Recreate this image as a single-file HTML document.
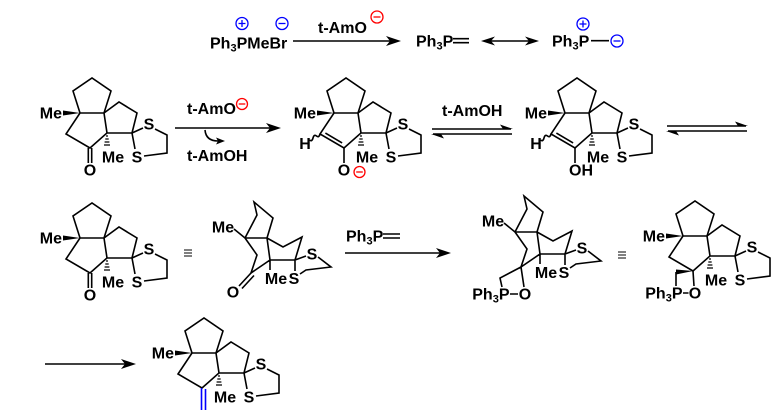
<!DOCTYPE html>
<html><head><meta charset="utf-8"><style>
html,body{margin:0;padding:0;background:#fff;}
svg{display:block;}
text{font-family:"Liberation Sans",Arial,sans-serif;font-weight:bold;font-size:16px;fill:#000;}
.b{stroke:#000;stroke-width:1.6;fill:none;stroke-linejoin:miter;}
.h{stroke:#000;stroke-width:1.2;fill:none;}
.f{fill:#000;stroke:none;}
</style></head><body>
<svg width="783" height="416" viewBox="0 0 783 416" xmlns="http://www.w3.org/2000/svg">
<rect width="783" height="416" fill="#fff"/>

<!-- ===== Top row ===== -->
<text x="210" y="48.5">Ph<tspan font-size="11" dy="3">3</tspan><tspan dy="-3">PMeBr</tspan></text>
<circle cx="242" cy="23.5" r="6" fill="none" stroke="#0000ff" stroke-width="1.3"/>
<path d="M238.5,23.5 H245.5 M242,20 V27" stroke="#0000ff" stroke-width="1.3"/>
<circle cx="282" cy="23.5" r="6" fill="none" stroke="#0000ff" stroke-width="1.3"/>
<path d="M278.5,23.5 H285.5" stroke="#0000ff" stroke-width="1.3"/>
<path class="b" d="M293,41 H392"/>
<polygon class="f" points="401,41 386,36 390,41 386,46"/>
<text x="318" y="33">t-AmO</text>
<circle cx="377" cy="17" r="6" fill="none" stroke="#ff0000" stroke-width="1.3"/>
<path d="M373.5,17 H380.5" stroke="#ff0000" stroke-width="1.3"/>
<text x="416" y="46.5">Ph<tspan font-size="11" dy="3">3</tspan><tspan dy="-3">P</tspan></text>
<path class="b" d="M453,38.7 H469 M453,42.7 H469"/>
<path class="b" d="M490,41 H530"/>
<polygon class="f" points="481,41 495,36.5 491,41 495,45.5"/>
<polygon class="f" points="539,41 525,36.5 529,41 525,45.5"/>
<text x="552" y="46.5">Ph<tspan font-size="11" dy="3">3</tspan><tspan dy="-3">P</tspan></text>
<circle cx="583" cy="24" r="6" fill="none" stroke="#0000ff" stroke-width="1.3"/>
<path d="M579.5,24 H586.5 M583,20.5 V27.5" stroke="#0000ff" stroke-width="1.3"/>
<path class="b" d="M591,40.7 H609"/>
<circle cx="617" cy="41" r="6" fill="none" stroke="#0000ff" stroke-width="1.3"/>
<path d="M613.5,41 H620.5" stroke="#0000ff" stroke-width="1.3"/>

<!-- ===== Row 1: molecule 1 (ketone) ===== -->
<g transform="translate(104,113)">
<path class="b" d="M-24,0 L-31,-22 L-12,-35 L7,-22 L0,0 Z M-24,0 L-38,21 L-14,35 L3,20 L0,0 M0,0 L15,-11 L33,0 L28,20 L3,20 M28,20 L39,15 M51,16 L63,22 L63,40 L40,43 M28,20 L31,36"/>
<polygon class="f" points="-24,0 -41,-2.5 -41,2.5"/>
<path class="h" d="M2,23 H4 M1.3,26 H4.7 M0.6,29 H5.4 M0,32 H6"/>
<path class="b" d="M-15.7,35 V50 M-12.3,35 V50"/>
<text x="-42" y="5.7" text-anchor="end">Me</text>
<text x="9" y="49.7" text-anchor="middle">Me</text>
<text x="45" y="16.7" text-anchor="middle">S</text>
<text x="33" y="49.7" text-anchor="middle">S</text>
<text x="-14" y="62.7" text-anchor="middle">O</text>
</g>

<!-- arrow 1 -->
<path class="b" d="M175,128 H272"/>
<polygon class="f" points="281,128 266,123 270,128 266,133"/>
<text x="187" y="114">t-AmO</text>
<circle cx="242" cy="104" r="5.5" fill="none" stroke="#ff0000" stroke-width="1.3"/>
<path d="M238.7,104 H245.3" stroke="#ff0000" stroke-width="1.3"/>
<path class="b" d="M205,130 Q206,141 218,141" stroke-width="1.3"/>
<polygon class="f" points="225,141 216,137.5 218,141 216,144.5"/>
<text x="187" y="161">t-AmOH</text>

<!-- molecule 2 (enolate) -->
<g transform="translate(358,113)">
<path class="b" d="M-24,0 L-31,-22 L-12,-35 L7,-22 L0,0 Z M-24,0 L-38,21 L-14,35 L3,20 L0,0 M0,0 L15,-11 L33,0 L28,20 L3,20 M28,20 L39,15 M51,16 L63,22 L63,40 L40,43 M28,20 L31,36"/>
<path class="b" d="M-32.6,20.1 L-15.9,29.9 M-14,35 V50"/>
<path class="b" stroke-width="1.2" d="M-38,21 Q-39,25 -41.5,23 T-45,25 T-48.5,27"/>
<polygon class="f" points="-24,0 -41,-2.5 -41,2.5"/>
<path class="h" d="M2,23 H4 M1.3,26 H4.7 M0.6,29 H5.4 M0,32 H6"/>
<text x="-42" y="5.7" text-anchor="end">Me</text>
<text x="-53" y="36" text-anchor="middle">H</text>
<text x="9" y="49.7" text-anchor="middle">Me</text>
<text x="45" y="16.7" text-anchor="middle">S</text>
<text x="33" y="49.7" text-anchor="middle">S</text>
<text x="-14" y="62.7" text-anchor="middle">O</text>
<circle cx="1.5" cy="59" r="5.5" fill="none" stroke="#ff0000" stroke-width="1.3"/>
<path d="M-1.8,59 H4.8" stroke="#ff0000" stroke-width="1.3"/>
</g>

<!-- equilibrium 1 -->
<text x="442" y="116">t-AmOH</text>
<path class="b" d="M432,129 H511 M433,134 H512"/>
<polygon class="f" points="513,129 500,124.5 503,129"/>
<polygon class="f" points="431,134 444,138.5 441,134"/>

<!-- molecule 3 (enol) -->
<g transform="translate(589,113)">
<path class="b" d="M-24,0 L-31,-22 L-12,-35 L7,-22 L0,0 Z M-24,0 L-38,21 L-14,35 L3,20 L0,0 M0,0 L15,-11 L33,0 L28,20 L3,20 M28,20 L39,15 M51,16 L63,22 L63,40 L40,43 M28,20 L31,36"/>
<path class="b" d="M-32.6,20.1 L-15.9,29.9 M-14,35 V50"/>
<path class="b" stroke-width="1.2" d="M-38,21 Q-39,25 -41.5,23 T-45,25 T-48.5,27"/>
<polygon class="f" points="-24,0 -41,-2.5 -41,2.5"/>
<path class="h" d="M2,23 H4 M1.3,26 H4.7 M0.6,29 H5.4 M0,32 H6"/>
<text x="-42" y="5.7" text-anchor="end">Me</text>
<text x="-53" y="36" text-anchor="middle">H</text>
<text x="9" y="49.7" text-anchor="middle">Me</text>
<text x="45" y="16.7" text-anchor="middle">S</text>
<text x="33" y="49.7" text-anchor="middle">S</text>
<text x="-20" y="62.7">OH</text>
</g>

<!-- equilibrium 2 -->
<path class="b" d="M667,126 H746 M668,131 H747"/>
<polygon class="f" points="748,126 735,121.5 738,126"/>
<polygon class="f" points="666,131 679,135.5 676,131"/>

<!-- ===== Row 3 ===== -->
<g transform="translate(104,238)">
<path class="b" d="M-24,0 L-31,-22 L-12,-35 L7,-22 L0,0 Z M-24,0 L-38,21 L-14,35 L3,20 L0,0 M0,0 L15,-11 L33,0 L28,20 L3,20 M28,20 L39,15 M51,16 L63,22 L63,40 L40,43 M28,20 L31,36"/>
<polygon class="f" points="-24,0 -41,-2.5 -41,2.5"/>
<path class="h" d="M2,23 H4 M1.3,26 H4.7 M0.6,29 H5.4 M0,32 H6"/>
<path class="b" d="M-15.7,35 V50 M-12.3,35 V50"/>
<text x="-42" y="5.7" text-anchor="end">Me</text>
<text x="9" y="49.7" text-anchor="middle">Me</text>
<text x="45" y="16.7" text-anchor="middle">S</text>
<text x="33" y="49.7" text-anchor="middle">S</text>
<text x="-14" y="62.7" text-anchor="middle">O</text>
</g>

<!-- equiv 1 -->
<path d="M184,250 H192 M184,253 H192 M184,256 H192" stroke="#000" stroke-width="1"/>

<!-- molecule 5 (3D ketone) -->
<g transform="translate(245,238)">
<path class="b" d="M-11,-9 L0,0 L22,0 M0,0 L12,-23 L9,-36 L28,-20 L22,0 M0,0 L12,17 L6,35 L25,22 L22,0 M25,22 L50,22 M22,0 L38,9 L57,-1 L50,22 M50,22 L61,18 M73,19 L86,29 L61,32 L55,36 M50,22 L50,33 M25,22 L25,32"/>
<path class="b" d="M6,35 L-6,48 M9,37.5 L-3,50.5"/>
<text x="-22" y="-5.3" text-anchor="middle">Me</text>
<text x="31" y="46" text-anchor="middle">Me</text>
<text x="49" y="46" text-anchor="middle">S</text>
<text x="67" y="21.7" text-anchor="middle">S</text>
<text x="-12" y="59.7" text-anchor="middle">O</text>
</g>

<!-- arrow Wittig -->
<text x="346" y="241.7">Ph<tspan font-size="11" dy="3">3</tspan><tspan dy="-3">P</tspan></text>
<path class="b" d="M383,234 H400 M383,238 H400"/>
<path class="b" d="M345,253 H442"/>
<polygon class="f" points="451,253 436,248 440,253 436,258"/>

<!-- molecule 6 (3D oxaphosphetane) -->
<g transform="translate(515,232)">
<path class="b" d="M-11,-9 L0,0 L22,0 M0,0 L12,-23 L9,-36 L28,-20 L22,0 M0,0 L12,17 L6,35 L25,22 L22,0 M25,22 L50,22 M22,0 L38,9 L57,-1 L50,22 M50,22 L61,18 M73,19 L86,29 L61,32 L55,36 M50,22 L50,33 M25,22 L25,32"/>
<path class="b" d="M6,35 L-15,46 L-13,55 M6,35 L9,55 M-5,62 H3"/>
<text x="-22" y="-5.3" text-anchor="middle">Me</text>
<text x="31" y="46" text-anchor="middle">Me</text>
<text x="49" y="46" text-anchor="middle">S</text>
<text x="67" y="21.7" text-anchor="middle">S</text>
<text x="-5.5" y="67.7" text-anchor="end">Ph<tspan font-size="11" dy="3">3</tspan><tspan dy="-3">P</tspan></text>
<text x="10" y="67.7" text-anchor="middle">O</text>
</g>

<!-- equiv 2 -->
<path d="M618,252 H626 M618,255 H626 M618,258 H626" stroke="#000" stroke-width="1"/>

<!-- molecule 7 -->
<g transform="translate(707,236)">
<path class="b" d="M-24,0 L-31,-22 L-12,-35 L7,-22 L0,0 Z M-24,0 L-38,21 L-14,35 L3,20 L0,0 M0,0 L15,-11 L33,0 L28,20 L3,20 M28,20 L39,15 M51,16 L63,22 L63,40 L40,43 M28,20 L31,36"/>
<polygon class="f" points="-24,0 -41,-2.5 -41,2.5"/>
<path class="h" d="M2,23 H4 M1.3,26 H4.7 M0.6,29 H5.4 M0,32 H6"/>
<polygon class="f" points="-14,35 -31,33.5 -31,38.5"/>
<path class="b" d="M-31,36 V50 M-14,35 L-13,50 M-24,57 H-18.5"/>
<text x="-42" y="5.7" text-anchor="end">Me</text>
<text x="9" y="49.7" text-anchor="middle">Me</text>
<text x="45" y="16.7" text-anchor="middle">S</text>
<text x="33" y="49.7" text-anchor="middle">S</text>
<text x="-24.5" y="62.7" text-anchor="end">Ph<tspan font-size="11" dy="3">3</tspan><tspan dy="-3">P</tspan></text>
<text x="-12" y="62.7" text-anchor="middle">O</text>
</g>

<!-- ===== Row 4 ===== -->
<path class="b" d="M45,364 H127"/>
<polygon class="f" points="136,364 121,359 125,364 121,369"/>

<g transform="translate(216,353)">
<path class="b" d="M-24,0 L-31,-22 L-12,-35 L7,-22 L0,0 Z M-24,0 L-38,21 L-14,35 L3,20 L0,0 M0,0 L15,-11 L33,0 L28,20 L3,20 M28,20 L39,15 M51,16 L63,22 L63,40 L40,43 M28,20 L31,36"/>
<polygon class="f" points="-24,0 -41,-2.5 -41,2.5"/>
<path class="h" d="M2,23 H4 M1.3,26 H4.7 M0.6,29 H5.4 M0,32 H6"/>
<path d="M-14.5,35 V57 M-10.5,36 V57" stroke="#0000ff" stroke-width="1.6" fill="none"/>
<text x="-42" y="5.7" text-anchor="end">Me</text>
<text x="9" y="49.7" text-anchor="middle">Me</text>
<text x="45" y="16.7" text-anchor="middle">S</text>
<text x="33" y="49.7" text-anchor="middle">S</text>
</g>

</svg>
</body></html>
